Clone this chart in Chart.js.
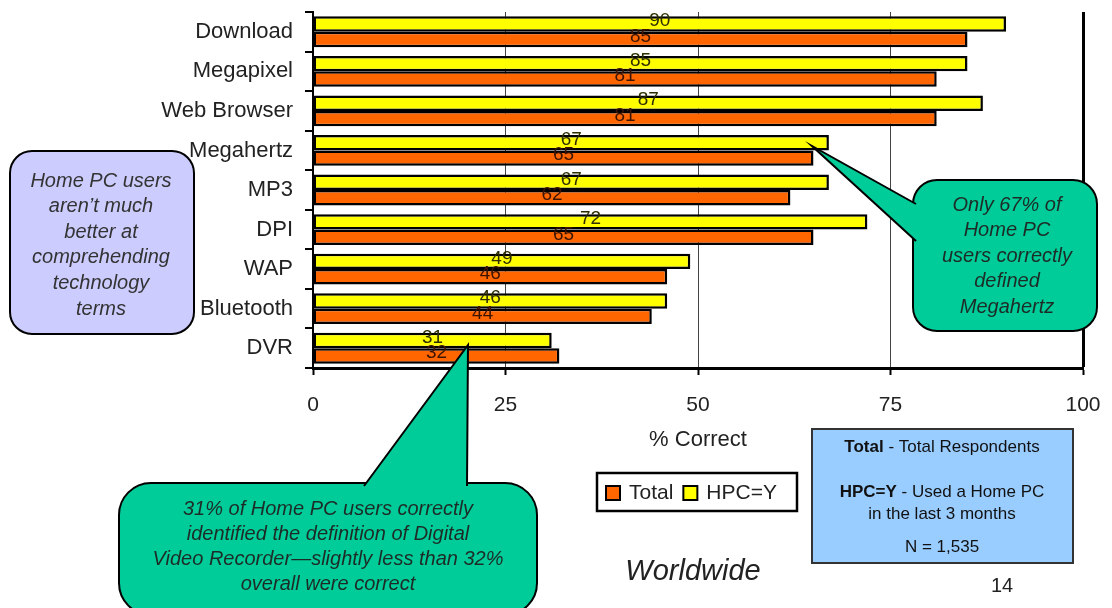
<!DOCTYPE html>
<html>
<head>
<meta charset="utf-8">
<title>Technology terms - % Correct</title>
<script src="https://cdn.jsdelivr.net/npm/chart.js@4.4.1/dist/chart.umd.min.js"></script>
<style>
    html, body { margin: 0; padding: 0; background: #fff; }
    #chart { display: block; }
</style>
</head>
<body>
<canvas id="chart" width="1112" height="608"></canvas>
<script>
    "use strict";

    // Survey data
    const categories = ['Download', 'Megapixel', 'Web Browser', 'Megahertz', 'MP3', 'DPI', 'WAP', 'Bluetooth', 'DVR'];
    const hpcValues = [90, 85, 87, 67, 67, 72, 49, 46, 31];
    const totalValues = [85, 81, 81, 65, 62, 65, 46, 44, 32];
    const xTickValues = [0, 25, 50, 75, 100];

    const FONT = '"Liberation Sans", Arial, sans-serif';
    const YELLOW = '#ffff00';
    const ORANGE = '#ff6600';
    const TEAL = '#00cc99';

    const leftNote = ['Home PC users', 'aren\u2019t much', 'better at', 'comprehending', 'technology', 'terms'];
    const rightNote = ['Only 67% of', 'Home PC', 'users correctly', 'defined', 'Megahertz'];
    const bottomNote = ['31% of Home PC users correctly', 'identified the definition of Digital',
        'Video Recorder\u2014slightly less than 32%', 'overall were correct'];


    // Value labels in the middle of each bar
    const barLabels = {
        id: 'barLabels',
        afterDatasetsDraw: function (chart) {
            const ctx = chart.ctx;
            ctx.save();
            ctx.font = '19px ' + FONT;
            ctx.textAlign = 'center';
            ctx.textBaseline = 'middle';
            chart.data.datasets.forEach(function (ds, i) {
                const meta = chart.getDatasetMeta(i);
                ctx.fillStyle = ds.labelColor;
                meta.data.forEach(function (bar, j) {
                    ctx.fillText(String(ds.data[j]), (bar.base + bar.x) / 2, bar.y - 3);
                });
            });
            ctx.restore();
        }
    };


    function drawLines(ctx, lines, cx, y0, step) {
        lines.forEach(function (t, i) {
            ctx.fillText(t, cx, y0 + i * step);
        });
    }

    // Text made of bold + normal runs, centred on cx
    function drawRuns(ctx, runs, cx, y, size) {
        let w = 0;
        runs.forEach(function (r) {
            ctx.font = (r.bold ? 'bold ' : '') + size + 'px ' + FONT;
            r.w = ctx.measureText(r.text).width;
            w += r.w;
        });
        let x = cx - w / 2;
        ctx.textAlign = 'left';
        runs.forEach(function (r) {
            ctx.font = (r.bold ? 'bold ' : '') + size + 'px ' + FONT;
            ctx.fillText(r.text, x, y);
            x += r.w;
        });
        ctx.textAlign = 'center';
    }

    // Rounded box with a pointer; base points sit just inside the box edge
    function callout(ctx, box, tip, b1, b2, fill) {
        ctx.save();
        ctx.lineWidth = 2;
        ctx.strokeStyle = '#000';
        ctx.fillStyle = fill;
        ctx.beginPath();
        ctx.roundRect(box.x, box.y, box.w, box.h, box.r);
        ctx.fill();
        ctx.stroke();
        if (tip) {
            ctx.beginPath();
            ctx.moveTo(tip[0], tip[1]);
            ctx.lineTo(b1[0], b1[1]);
            ctx.lineTo(b2[0], b2[1]);
            ctx.closePath();
            ctx.fill();
            ctx.beginPath();
            ctx.moveTo(b1[0], b1[1]);
            ctx.lineTo(tip[0], tip[1]);
            ctx.lineTo(b2[0], b2[1]);
            ctx.stroke();
        }
        ctx.restore();
    }


    // Notes, legend and boxes around the plot
    const annotations = {
        id: 'annotations',
        afterDraw: function (chart) {
            const ctx = chart.ctx;
            const x = chart.scales.x;
            ctx.save();

            // axis title
            ctx.fillStyle = '#222';
            ctx.font = '22px ' + FONT;
            ctx.textAlign = 'center';
            ctx.textBaseline = 'middle';
            ctx.fillText('% Correct', x.getPixelForValue(50), 440);

            // legend: Total first, then HPC=Y
            ctx.fillStyle = '#fff';
            ctx.fillRect(597, 473, 200, 38);
            ctx.lineWidth = 2.5;
            ctx.strokeStyle = '#000';
            ctx.strokeRect(597, 473, 200, 38);
            ctx.font = '21px ' + FONT;
            ctx.textAlign = 'left';
            let lx = 606;
            [chart.data.datasets[1], chart.data.datasets[0]].forEach(function (ds) {
                ctx.fillStyle = ds.backgroundColor;
                ctx.fillRect(lx, 486, 14, 14);
                ctx.lineWidth = 2;
                ctx.strokeRect(lx, 486, 14, 14);
                ctx.fillStyle = '#222';
                ctx.fillText(ds.label, lx + 23, 493);
                lx += 23 + ctx.measureText(ds.label).width + 10;
            });

            // respondent key
            ctx.fillStyle = '#99ccff';
            ctx.fillRect(812, 429, 261, 134);
            ctx.lineWidth = 2;
            ctx.strokeStyle = '#333';
            ctx.strokeRect(812, 429, 261, 134);
            ctx.fillStyle = '#111';
            ctx.textAlign = 'center';
            drawRuns(ctx, [{ text: 'Total', bold: true }, { text: ' - Total Respondents' }], 942, 447, 17);
            drawRuns(ctx, [{ text: 'HPC=Y', bold: true }, { text: ' - Used a Home PC' }], 942, 492, 17);
            ctx.font = '17px ' + FONT;
            ctx.fillText('in the last 3 months', 942, 514);
            ctx.fillText('N = 1,535', 942, 547);

            ctx.fillStyle = '#222';
            ctx.font = 'italic 29px ' + FONT;
            ctx.fillText('Worldwide', 693, 572);
            ctx.font = '20px ' + FONT;
            ctx.fillText('14', 1002, 586);

            // left note
            callout(ctx, { x: 10, y: 151, w: 184, h: 183, r: 22 }, null, null, null, '#ccccff');
            ctx.fillStyle = '#333';
            ctx.font = 'italic 20px ' + FONT;
            drawLines(ctx, leftNote, 101, 181, 25.6);

            // Megahertz note
            callout(ctx, { x: 913, y: 180, w: 184, h: 151, r: 24 },
                [812, 146], [916, 204], [916, 241], TEAL);
            ctx.fillStyle = '#1d2b26';
            ctx.font = 'italic 20px ' + FONT;
            drawLines(ctx, rightNote, 1007, 205, 25.5);

            // DVR note
            callout(ctx, { x: 119, y: 483, w: 418, h: 132, r: 32 },
                [468, 345], [364, 486], [467, 486], TEAL);
            ctx.fillStyle = '#1d2b26';
            ctx.font = 'italic 20px ' + FONT;
            drawLines(ctx, bottomNote, 328, 509, 25.3);

            ctx.restore();
        }
    };


    const ctx = document.getElementById('chart').getContext('2d');
    const myChart = new Chart(ctx, {
        type: 'bar',
        data: {
            labels: categories,
            datasets: [{
                label: 'HPC=Y',
                data: hpcValues,
                backgroundColor: YELLOW,
                labelColor: '#2e2e00',
                borderColor: '#000',
                borderWidth: 2.5,
                borderSkipped: false
            },
            {
                label: 'Total',
                data: totalValues,
                backgroundColor: ORANGE,
                labelColor: '#3d1400',
                borderColor: '#000',
                borderWidth: 2.5,
                borderSkipped: false
            }]
        },
        options: {
            indexAxis: 'y',
            responsive: false,
            devicePixelRatio: 1,
            animation: false,
            layout: { padding: { top: 12, right: 29, left: 0, bottom: 0 } },
            datasets: { bar: { categoryPercentage: 0.78, barPercentage: 1.0 } },
            plugins: {
                legend: { display: false },
                tooltip: { enabled: false }
            },
            scales: {
                x: {
                    min: 0,
                    max: 100,
                    afterBuildTicks: function (scale) {
                        scale.ticks = xTickValues.map(function (v) { return { value: v }; });
                    },
                    afterFit: function (scale) {
                        scale.height = 240;
                        scale.paddingLeft = 0;
                        scale.paddingRight = 0;
                    },
                    ticks: {
                        color: '#222',
                        font: { family: FONT, size: 21 },
                        padding: 18
                    },
                    grid: {
                        color: function (c) {
                            if (c.tick && c.tick.value === 0) return 'rgba(0,0,0,0)';
                            return c.tick && c.tick.value === 100 ? '#000' : '#444';
                        },
                        lineWidth: function (c) {
                            return c.tick && c.tick.value === 100 ? 3 : 1;
                        },
                        tickColor: '#000',
                        tickWidth: 2,
                        tickLength: 7
                    },
                    border: { color: '#000', width: 3 }
                },
                y: {
                    afterFit: function (scale) {
                        scale.width = 313;
                        scale.paddingTop = 0;
                        scale.paddingBottom = 0;
                    },
                    ticks: {
                        color: '#222',
                        font: { family: FONT, size: 22 },
                        padding: 12
                    },
                    grid: {
                        drawOnChartArea: false,
                        color: '#000',
                        lineWidth: 2,
                        tickLength: 8
                    },
                    border: { color: '#000', width: 2 }
                }
            }
        },
        plugins: [barLabels, annotations]
    });
</script>
</body>
</html>
